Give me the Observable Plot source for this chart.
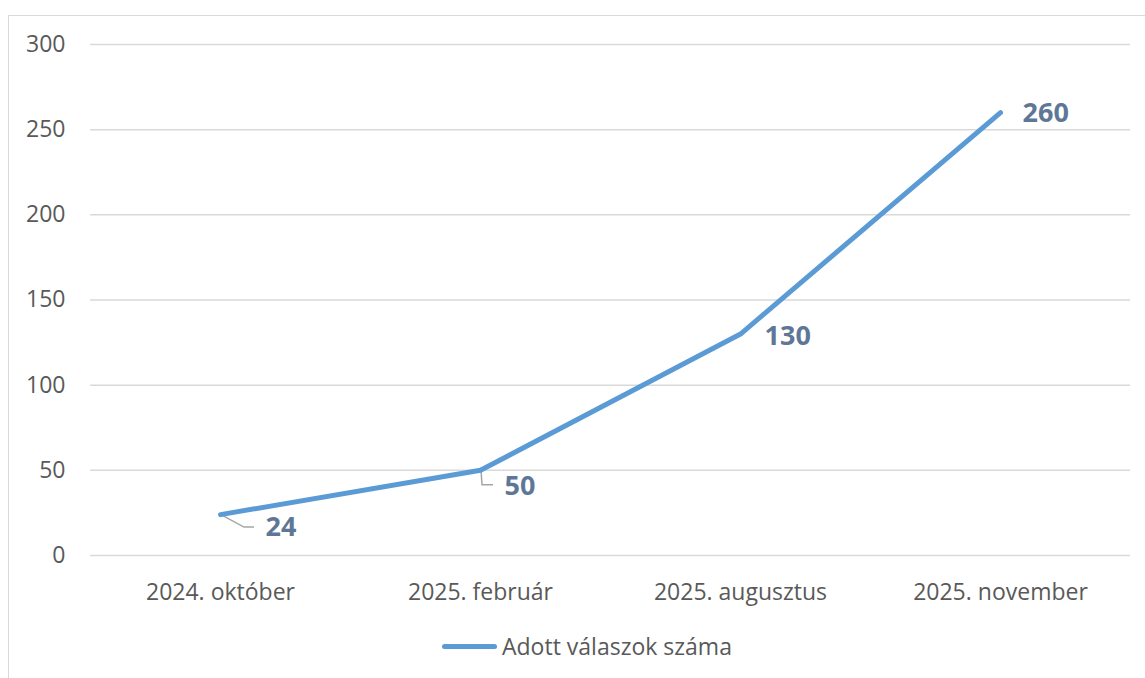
<!DOCTYPE html>
<html>
<head>
<meta charset="utf-8">
<script src="https://cdn.jsdelivr.net/npm/d3@7"></script>
<script src="https://cdn.jsdelivr.net/npm/@observablehq/plot@0.6"></script>
<style>
  html, body { margin: 0; padding: 0; background: #fff; }
  body { width: 1145px; height: 678px; overflow: hidden; position: relative; font-family: "Open Sans", sans-serif; }
  #frame { position: absolute; left: 8px; top: 15px; width: 1200px; height: 700px; border: 1.5px solid #d9d9d9; box-sizing: border-box; }
  #chart { position: absolute; left: 0; top: 0; }
  #legend { position: absolute; left: 442px; top: 630px; display: flex; align-items: center; color: #595959; font-size: 23px; white-space: nowrap; }
  #legend .sw { width: 55px; height: 5px; background: #5b9bd5; border-radius: 3px; margin-right: 5px; }
</style>
</head>
<body>
<div id="frame"></div>
<div id="chart"></div>
<div id="legend"><span class="sw"></span><span id="legendLabel"></span></div>
<script>
const categories = ["2024. október", "2025. február", "2025. augusztus", "2025. november"];
const values = [24, 50, 130, 260];
const yTicks = [0, 50, 100, 150, 200, 250, 300];
const seriesName = "Adott válaszok száma";

const data = categories.map((c, i) => ({cat: c, value: values[i]}));
document.getElementById("legendLabel").textContent = seriesName;

const labelColor = "#5f7797";
const labelFont = {fontSize: 27, fontWeight: "bold", fill: labelColor, fontFamily: "Open Sans", textAnchor: "start"};

// leader lines (pixel offsets relative to each point)
function leaders(offsets) {
  return (index, scales) => {
    const g = d3.create("svg:g");
    offsets.forEach((pts, i) => {
      if (!pts) return;
      const x0 = scales.x(data[i].cat), y0 = scales.y(data[i].value);
      g.append("path")
        .attr("d", d3.line()(pts.map(([dx, dy]) => [x0 + dx, y0 + dy])))
        .attr("fill", "none").attr("stroke", "#a6a6a6").attr("stroke-width", 1.5);
    });
    return g.node();
  };
}

const chart = Plot.plot({
  width: 1145,
  height: 678,
  marginLeft: 90,
  marginRight: 15,
  marginTop: 44,
  marginBottom: 123,
  style: {fontFamily: "Open Sans", fontSize: "23px", color: "#595959", background: "transparent"},
  x: {type: "point", domain: categories, padding: 0.5, label: null},
  y: {domain: [0, 300], label: null},
  marks: [
    Plot.gridY(yTicks, {stroke: "#d9d9d9", strokeOpacity: 1, strokeWidth: 1.5}),
    Plot.axisY(yTicks, {tickSize: 0, tickPadding: 25, label: null, fontSize: 23, fill: "#595959"}),
    Plot.axisX({tickSize: 0, tickPadding: 28, label: null, fontSize: 23, fill: "#595959"}),
    leaders([[[0, 0], [24, 13], [34, 13]], [[1, 0], [2, 15], [13, 15]], null, null]),
    Plot.line(data, {x: "cat", y: "value", stroke: "#5b9bd5", strokeWidth: 5, strokeLinecap: "round", strokeLinejoin: "round"}),
    Plot.text(data.filter((d, i) => i === 0), {x: "cat", y: "value", text: d => String(d.value), dx: 45, dy: 13, ...labelFont}),
    Plot.text(data.filter((d, i) => i === 1), {x: "cat", y: "value", text: d => String(d.value), dx: 24, dy: 16, ...labelFont}),
    Plot.text(data.filter((d, i) => i === 2), {x: "cat", y: "value", text: d => String(d.value), dx: 24, dy: 2, ...labelFont}),
    Plot.text(data.filter((d, i) => i === 3), {x: "cat", y: "value", text: d => String(d.value), dx: 22, dy: 1, ...labelFont})
  ]
});
document.getElementById("chart").appendChild(chart);
</script>
</body>
</html>
